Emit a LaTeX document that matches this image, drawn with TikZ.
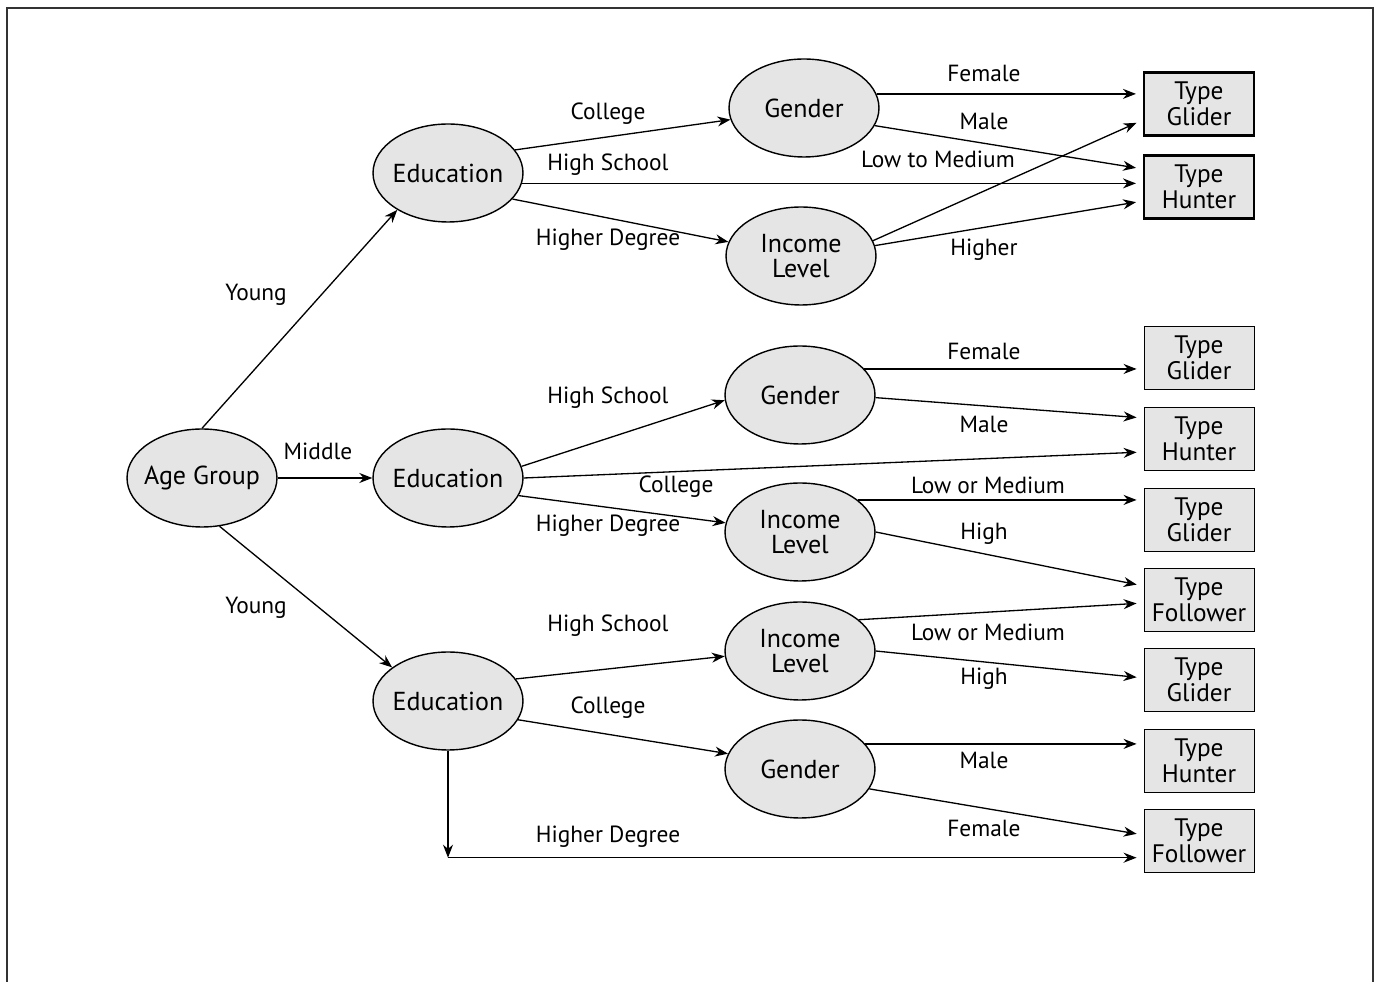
\documentclass[tikz,border=0pt]{standalone}
\usepackage{fontspec}
\setmainfont{PT Sans}
\usetikzlibrary{calc,arrows.meta,shapes.geometric}

\begin{document}
\begin{tikzpicture}[x=0.02cm, y=-0.02cm,
		choice/.style={ellipse, draw, line width=0.8pt, fill=black!10, minimum width=3cm, minimum height=1.96cm, inner xsep=-6pt, inner ysep=0pt, align=center, font=\fontsize{14.8}{14.7}\selectfont},
		leaf/.style={rectangle, draw, line width=0.5pt, fill=black!10, minimum width=2.2cm, minimum height=1.26cm, inner sep=0pt, align=center, font=\fontsize{14.4}{14.7}\selectfont},
		leafbold/.style={leaf, line width=1.2pt},
		branch/.style={-{Stealth[length=2.6mm,width=2mm]}, line width=0.75pt},
		toleaf/.style={shorten >=1.4mm},
		lbl/.style={inner sep=0pt, font=\fontsize{13.3}{14}\selectfont}]
		%%%%% START %%%%%
		
		\useasboundingbox (0,0) rectangle (1377,982);
		\draw[line width=1.2pt, black!80] (7,982) -- (7,8) -- (1373,8) -- (1373,982);
		
		% decision nodes
		\node[choice] (age) at (202,478) {Age Group};
		\node[choice] (eduT) at (448,173) {Education};
		\node[choice] (eduM) at (448,478) {Education};
		\node[choice] (eduB) at (448,701) {Education};
		\node[choice] (genT) at (804,108) {Gender};
		\node[choice] (incT) at (801,256) {Income\\Level};
		\node[choice] (genM) at (800,395) {Gender};
		\node[choice] (incM) at (800,532) {Income\\Level};
		\node[choice] (incB) at (800,651) {Income\\Level};
		\node[choice] (genB) at (800,769) {Gender};
		
		% outcomes
		\node[leafbold] (glT) at (1199,104) {Type\\Glider};
		\node[leafbold] (huT) at (1199,187) {Type\\Hunter};
		\node[leaf] (glM) at (1199,358) {Type\\Glider};
		\node[leaf] (huM) at (1199,439) {Type\\Hunter};
		\node[leaf] (glI) at (1199,520) {Type\\Glider};
		\node[leaf] (foI) at (1199,600) {Type\\Follower};
		\node[leaf] (glB) at (1199,680) {Type\\Glider};
		\node[leaf] (huB) at (1199,761) {Type\\Hunter};
		\node[leaf] (foB) at (1199,841) {Type\\Follower};
		
		% age group
		\draw[branch] (age.north) -- (eduT.216);
		\draw[branch] (age.east) -- (eduM.west);
		\draw[branch] (age.290) -- (eduB.149);
		\node[lbl] (ageY1) at (256,295) {Young};
		\node[lbl] (ageM) at (318,451) {Middle};
		\node[lbl] (ageY2) at (256,608) {Young};
		
		% upper branch
		\draw[branch] (eduT.19) -- (genT.189);
		\draw[branch, toleaf] (eduT.352) -- (eduT.352 -| huT.west);
		\draw[branch] (eduT.338) -- (incT.169);
		\draw[branch, toleaf] (genT.11) -- (genT.11 -| glT.west);
		\draw[branch, toleaf] (genT.346) -- ($(huT.west)+(0,-18)$);
		\draw[branch, toleaf] (incT.12) -- ($(glT.west)+(0,16)$);
		\draw[branch, toleaf] (incT.8) -- ($(huT.west)+(0,14)$);
		\node[lbl] (eduTc) at (608,114) {College};
		\node[lbl] (eduTh) at (608,165) {High School};
		\node[lbl] (eduTd) at (608,240) {Higher Degree};
		\node[lbl] (genTf) at (984,73) {Female};
		\node[lbl] (genTm) at (984,121) {Male};
		\node[lbl] (incTl) at (938,159) {Low to Medium};
		\node[lbl] (incTh) at (984,250) {Higher};
		
		% middle branch
		\draw[branch] (eduM.9) -- (genM.184);
		\draw[branch, toleaf] (eduM.east) -- ($(huM.west)+(0,13)$);
		\draw[branch] (eduM.346) -- (incM.173);
		\draw[branch, toleaf] (genM.22) -- (genM.22 -| glM.west);
		\draw[branch, toleaf] (genM.358) -- ($(huM.west)+(0,-21)$);
		\draw[branch, toleaf] (incM.29) -- (incM.29 -| glI.west);
		\draw[branch, toleaf] (incM.east) -- ($(foI.west)+(0,-14)$);
		\node[lbl] (eduMh) at (608,398) {High School};
		\node[lbl] (eduMc) at (676,487) {College};
		\node[lbl] (eduMd) at (608,526) {Higher Degree};
		\node[lbl] (genMf) at (984,351) {Female};
		\node[lbl] (genMm) at (984,424) {Male};
		\node[lbl] (incMl) at (988,485) {Low or Medium};
		\node[lbl] (incMh) at (984,534) {High};
		
		% lower branch
		\draw[branch] (eduB.18) -- (incB.184);
		\draw[branch] (eduB.345) -- (genB.168);
		\coordinate (bend) at ($(eduB.south)+(0,107)$);
		\draw[branch] (eduB.south) -- (bend);
		\draw[branch, toleaf] (bend) -- (bend -| foB.west);
		\draw[branch, toleaf] (incB.28) -- ($(foI.west)+(0,3)$);
		\draw[branch, toleaf] (incB.east) -- ($(glB.west)+(0,-2)$);
		\draw[branch, toleaf] (genB.21) -- (genB.21 -| huB.west);
		\draw[branch, toleaf] (genB.344) -- ($(foB.west)+(0,-6)$);
		\node[lbl] (eduBh) at (608,626) {High School};
		\node[lbl] (eduBc) at (608,708) {College};
		\node[lbl] (eduBd) at (608,837) {Higher Degree};
		\node[lbl] (incBl) at (988,632) {Low or Medium};
		\node[lbl] (incBh) at (984,679) {High};
		\node[lbl] (genBm) at (984,760) {Male};
		\node[lbl] (genBf) at (984,828) {Female};
		
		%%%%% END %%%%%
\end{tikzpicture}
\end{document}
